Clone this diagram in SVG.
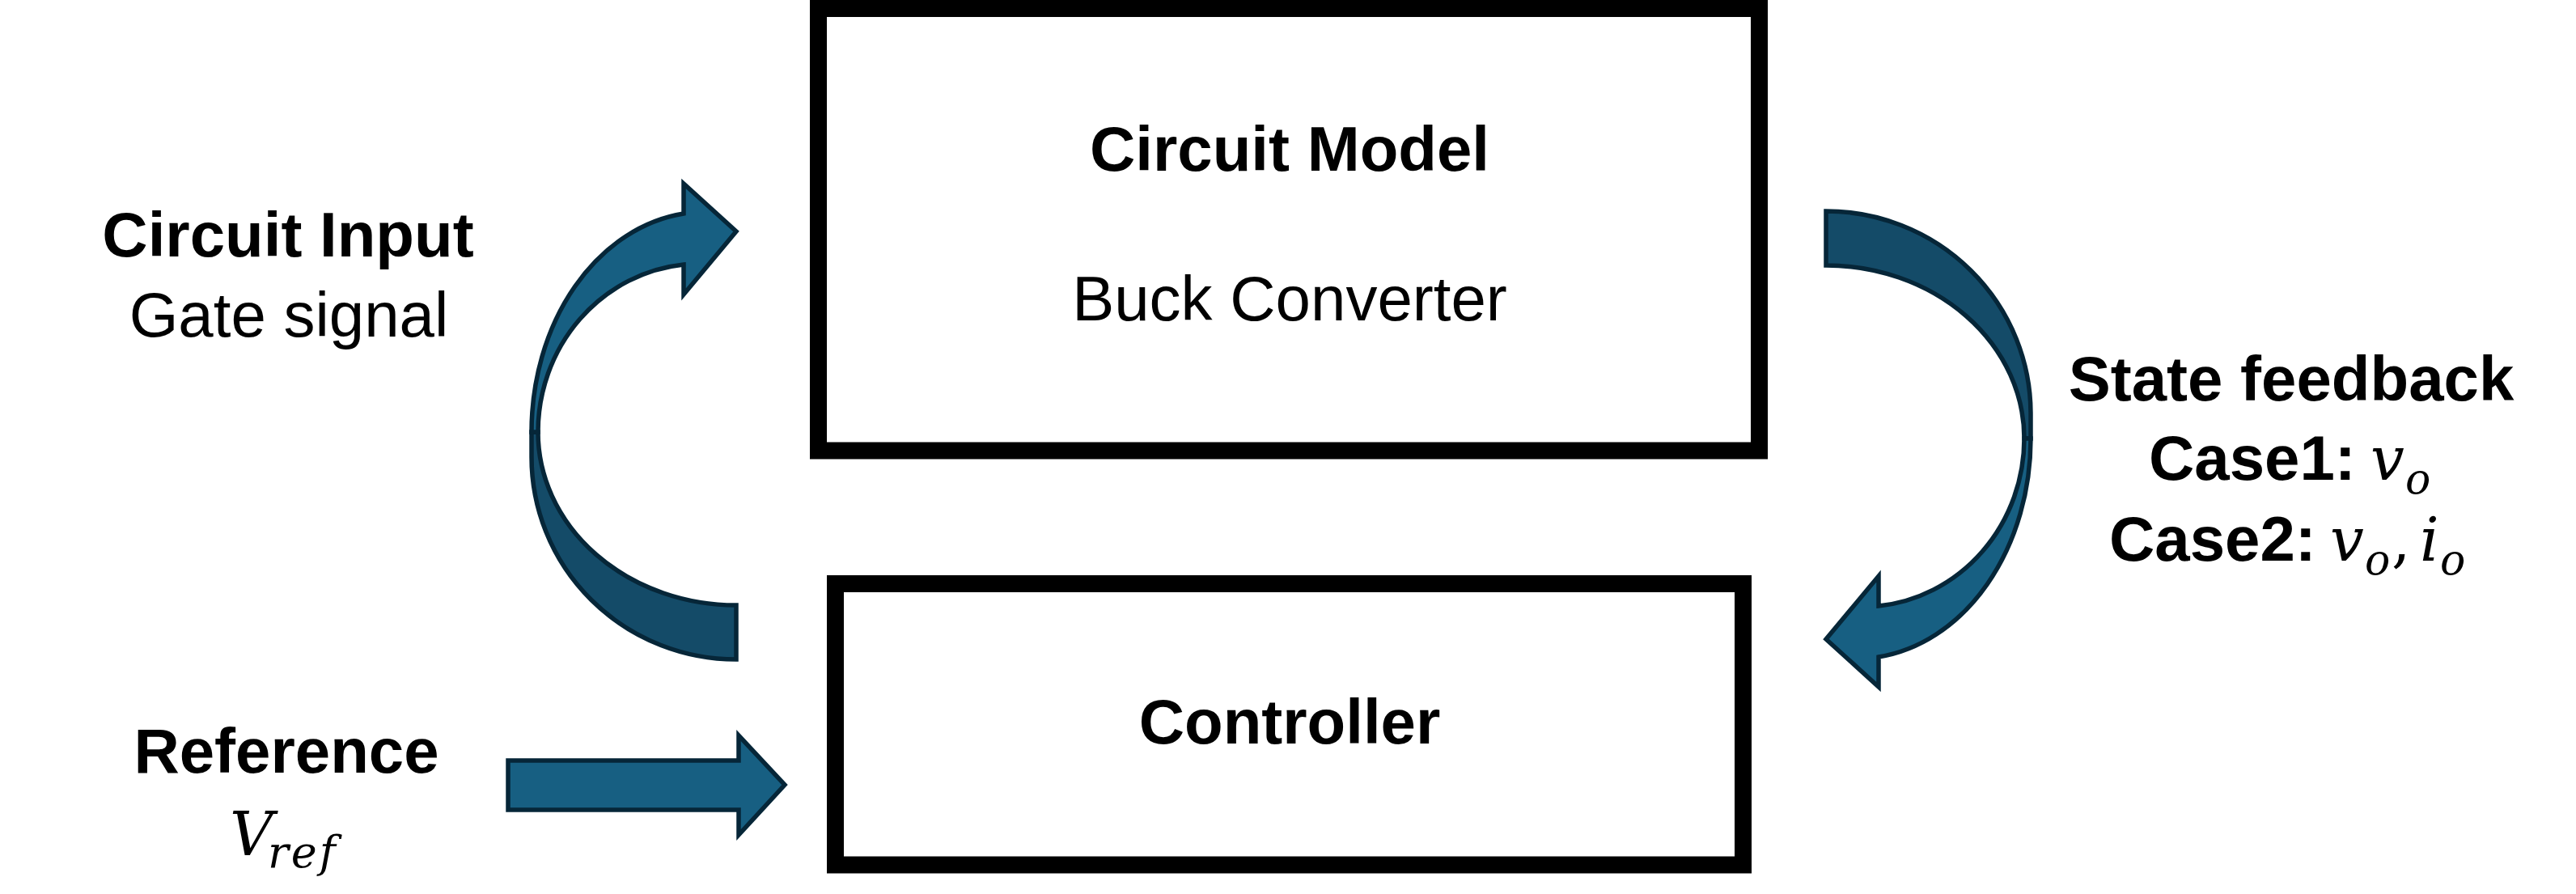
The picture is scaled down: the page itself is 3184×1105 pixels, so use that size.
<svg xmlns="http://www.w3.org/2000/svg" xmlns:xlink="http://www.w3.org/1999/xlink" width="3184" height="1105" viewBox="0 0 3184 1105">
<style>
.box{fill:#ffffff;stroke:#000000;stroke-width:21}
.front{fill:#175F82;stroke:#062638;stroke-width:5.5;stroke-linejoin:miter}
.back{fill:#144B68;stroke:#062638;stroke-width:5.5;stroke-linejoin:miter}
.b{font-family:"Liberation Sans",Arial,sans-serif;font-weight:bold;font-size:78px;fill:#000}
.r{font-family:"Liberation Sans",Arial,sans-serif;font-size:78px;fill:#000}
.m{font-family:"DejaVu Serif","Liberation Serif",serif;font-style:italic;fill:#000}
</style>
<defs>
<g id="curvedArrow">
<path class="back" d="M 910,815 A 253 250 0 0 1 657,565 L 657,534 L 665,534 A 245 214 0 0 0 910,748 Z"/>
<path class="front" d="M 657,534 A 215 272 0 0 1 845,264 L 845,227 L 910,286 L 845,364 L 845,327 A 200 208 0 0 0 665,534 Z"/>
</g>
</defs>
<rect width="3184" height="1105" fill="#ffffff"/>
<g id="connectors">
<use id="arrow-gate" xlink:href="#curvedArrow" href="#curvedArrow"/>
<use id="arrow-feedback" xlink:href="#curvedArrow" href="#curvedArrow" transform="translate(-3,0) rotate(180 1585 538)"/>
<path id="arrow-ref" class="front" d="M 628,940 L 913,940 L 913,909 L 970,970 L 913,1032 L 913,1001 L 628,1001 Z"/>
</g>
<g id="circuit-model">
<rect class="box" x="1011.5" y="10.5" width="1163" height="546.5"/>
<text class="b" x="1594" y="211" text-anchor="middle">Circuit Model</text>
<text class="r" x="1594" y="396" text-anchor="middle">Buck Converter</text>
</g>
<g id="controller">
<rect class="box" x="1032.5" y="721.5" width="1122" height="347.5"/>
<text class="b" x="1594" y="919" text-anchor="middle">Controller</text>
</g>
<g id="label-circuit-input">
<text class="b" x="356" y="317" text-anchor="middle">Circuit Input</text>
<text class="r" x="357" y="416" text-anchor="middle">Gate signal</text>
</g>
<g id="label-reference">
<text class="b" x="354" y="955" text-anchor="middle">Reference</text>
<text class="m" x="284" y="1057" font-size="74">V<tspan x="331" dy="15" font-size="54" letter-spacing="3">ref</tspan></text>
</g>
<g id="label-state-feedback">
<text class="b" x="2832" y="495" text-anchor="middle">State feedback</text>
<text class="b" x="2656" y="593">Case1:</text>
<text class="m" x="2930" y="593" font-size="74">v<tspan x="2973" dy="17" font-size="52">o</tspan></text>
<text class="b" x="2607" y="693">Case2:</text>
<text class="m" x="2880" y="693" font-size="74">v<tspan x="2923" dy="17" font-size="52">o</tspan><tspan x="2956" dy="-17" font-size="74" font-style="normal">,</tspan><tspan x="2991">i</tspan><tspan x="3016" dy="17" font-size="52">o</tspan></text>
</g>
</svg>
